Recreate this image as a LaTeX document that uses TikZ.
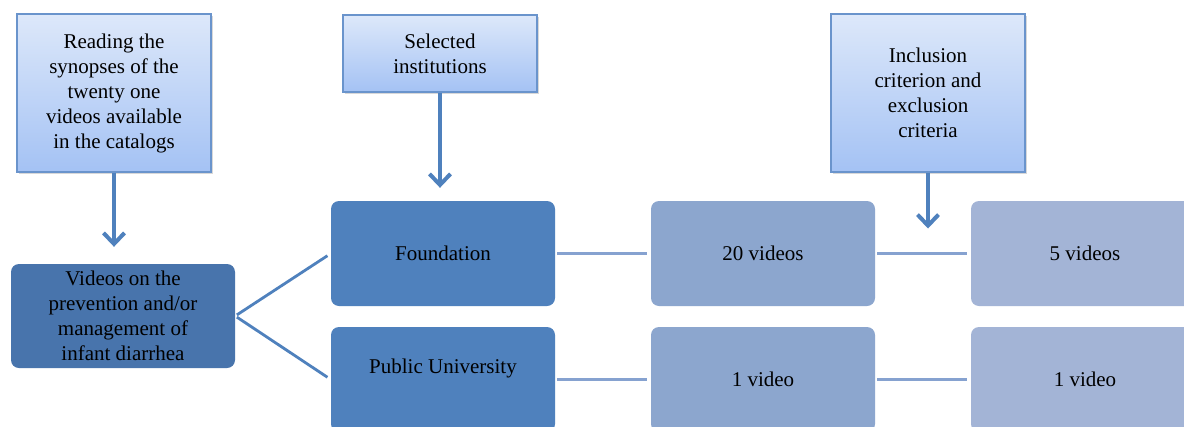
\documentclass[tikz,border=0pt]{standalone}
\usepackage{fontspec}
\setmainfont{Liberation Serif}
\usetikzlibrary{arrows.meta,shadows}
\definecolor{boxtop}{HTML}{DDE8FA}
\definecolor{boxbot}{HTML}{A4C2F4}
\definecolor{boxedge}{HTML}{6A94CC}
\definecolor{darkbox}{HTML}{4874AC}
\definecolor{midbox}{HTML}{4F81BD}
\definecolor{paleA}{HTML}{8CA6CE}
\definecolor{paleB}{HTML}{A3B4D6}
\definecolor{arrowc}{HTML}{4F81BD}
\definecolor{linec}{HTML}{86A2D0}
\begin{document}
\begin{tikzpicture}[x=1pt,y=-1pt,
  every node/.style={font=\fontsize{21pt}{25pt}\selectfont, align=center, text=black, inner sep=0pt},
  topbox/.style={draw=boxedge, line width=1.2pt, top color=boxtop, bottom color=boxbot,
     drop shadow={shadow xshift=1.5pt, shadow yshift=-1.5pt, opacity=0.3}},
  flowbox/.style={rounded corners=8pt, minimum width=224pt, minimum height=105pt},
  downarrow/.style={draw=arrowc, line width=3.3pt, -{Straight Barb[length=11pt,width=21pt,line width=4pt]}},
  branch/.style={draw=arrowc, line width=2.8pt},
  link/.style={draw=linec, line width=2.2pt}
]
\useasboundingbox (0,0) rectangle (1184,426);
\clip (0,0) rectangle (1184,426);
\fill[white] (0,0) rectangle (1184,426);

% top boxes
\node[topbox, minimum width=194pt, minimum height=158pt] (read) at (114,93)
  {Reading the\\synopses of the\\twenty one\\videos available\\in the catalogs};
\node[topbox, minimum width=194pt, minimum height=77pt] (sel) at (440,53.5)
  {Selected\\institutions};
\node[topbox, minimum width=194pt, minimum height=158pt] (incl) at (928,93)
  {Inclusion\\criterion and\\exclusion\\criteria};

% flow boxes
\node[flowbox, fill=darkbox, minimum width=224pt, minimum height=104pt] (vid) at (123,316)
  {Videos on the\\prevention and/or\\management of\\infant diarrhea};
\node[flowbox, fill=midbox] (found) at (443,253.5) {Foundation};
\node[flowbox, fill=midbox, text height=15pt, text depth=27pt] (pub) at (443,379.5) {Public University};
\node[flowbox, fill=paleA] (v20) at (763,253.5) {20 videos};
\node[flowbox, fill=paleA] (v1a) at (763,379.5) {1 video};
\node[flowbox, fill=paleB, minimum width=228pt] (v5) at (1085,253.5) {5 videos};
\node[flowbox, fill=paleB, minimum width=228pt] (v1b) at (1085,379.5) {1 video};

\coordinate (j) at (928,253.5);

% arrows
\draw[downarrow, shorten >=17pt] (read.south) -- (read.south |- vid.north);
\draw[downarrow, shorten >=13pt] (sel.south) -- (sel.south |- found.north);
\draw[downarrow, shorten >=25pt] (incl.south) -- (j);

% branches
\draw[branch, shorten <=2pt, shorten >=4pt] (vid.east) -- (found.west);
\draw[branch, shorten <=2pt, shorten >=4pt] (vid.east) -- (pub.west);

% links
\draw[link, shorten <=2pt, shorten >=4pt] (found.east) -- (v20.west);
\draw[link, shorten <=2pt, shorten >=4pt] (v20.east) -- (v5.west);
\draw[link, shorten <=2pt, shorten >=4pt] (pub.east) -- (v1a.west);
\draw[link, shorten <=2pt, shorten >=4pt] (v1a.east) -- (v1b.west);
\end{tikzpicture}
\end{document}
